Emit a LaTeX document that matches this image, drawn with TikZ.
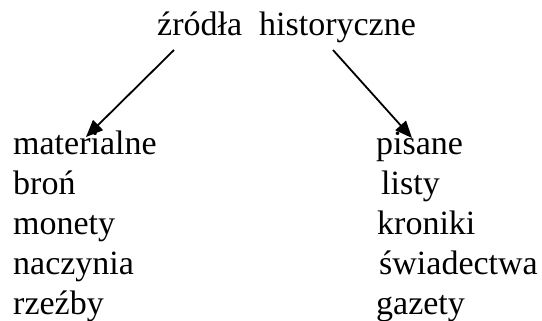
\documentclass[tikz,border=0pt]{standalone}
\usepackage{fontspec}
\setmainfont{Liberation Serif}
\usetikzlibrary{arrows.meta}
\tikzset{
  word/.style={anchor=base west, inner sep=0pt, font=\fontsize{34}{40}\selectfont},
  arr/.style={line width=1.8pt, -{Triangle[length=17pt,width=14pt]}}
}
\begin{document}
\begin{tikzpicture}[x=1pt,y=-1pt]
\useasboundingbox (0,0) rectangle (542,321);
\node[word] (title) at (157,36) {źródła~~historyczne};
\node[word] (mat) at (13,155) {materialne};
\node[word] (bron) at (13,195) {broń};
\node[word] (mon) at (13,235) {monety};
\node[word] (nacz) at (13,275) {naczynia};
\node[word] (rzez) at (13,315) {rzeźby};
\node[word] (pis) at (376,155) {pisane};
\node[word] (list) at (381,195) {listy};
\node[word] (kron) at (377,235) {kroniki};
\node[word] (swiad) at (379,275) {świadectwa};
\node[word] (gaz) at (376,315) {gazety};
\coordinate (ls) at (174,50);
\coordinate (le) at (86,137);
\coordinate (rs) at (333,50);
\coordinate (re) at (412,138);
\draw[arr] (ls) -- (le);
\draw[arr] (rs) -- (re);
\end{tikzpicture}
\end{document}
